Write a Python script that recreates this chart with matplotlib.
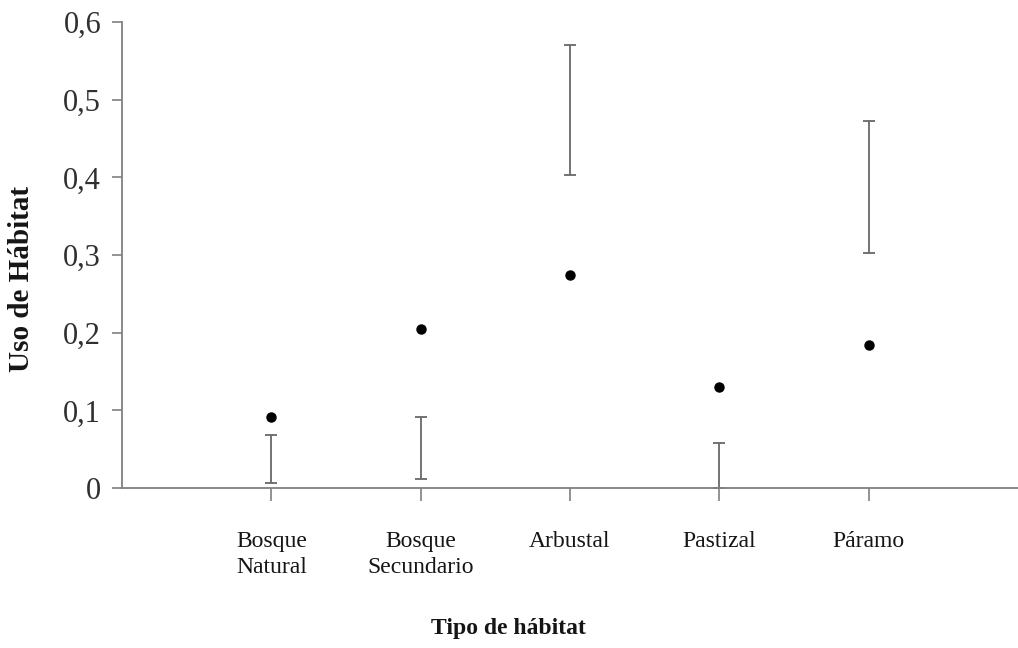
import matplotlib.pyplot as plt

# Datos
habitats = ["Bosque\nNatural", "Bosque\nSecundario", "Arbustal", "Pastizal", "Páramo"]
uso = [0.091, 0.205, 0.274, 0.130, 0.184]
ic_inf = [0.006, 0.012, 0.403, 0.0, 0.302]
ic_sup = [0.068, 0.091, 0.570, 0.058, 0.472]
yticks = [0, 0.1, 0.2, 0.3, 0.4, 0.5, 0.6]
ytick_labels = ["0", "0,1", "0,2", "0,3", "0,4", "0,5", "0,6"]

plt.rcParams['font.family'] = ['Liberation Serif', 'DejaVu Serif']

fig = plt.figure(figsize=(10.18, 6.48), dpi=100)
ax = fig.add_axes([122 / 1018, 160 / 648, 1 - 122 / 1018, (488 - 22) / 648])

x = list(range(1, len(habitats) + 1))
centros = [(a + b) / 2 for a, b in zip(ic_inf, ic_sup)]
err = [[c - a for c, a in zip(centros, ic_inf)], [b - c for b, c in zip(ic_sup, centros)]]

# intervalos (sin marcador)
ax.errorbar(x, centros, yerr=err, fmt='none', ecolor='#686868', elinewidth=1.3,
            capsize=4.6, capthick=1.3, clip_on=False)
# puntos observados
ax.plot(x, uso, 'o', color='black', markersize=6.5, linestyle='none')

ax.set_xlim(0, 6)
ax.set_ylim(0, 0.6)
ax.set_xticks(x)
ax.set_xticklabels(habitats, fontsize=17, color='#151515', linespacing=1.3)
ax.set_yticks(yticks)
ax.set_yticklabels(ytick_labels, fontsize=22, color='#303030')

for s in ['top', 'right']:
    ax.spines[s].set_visible(False)
for s in ['left', 'bottom']:
    ax.spines[s].set_color('#808080')
    ax.spines[s].set_linewidth(1.3)
ax.tick_params(axis='x', direction='out', length=9, width=1.2, color='#808080', pad=22)
ax.tick_params(axis='y', direction='out', length=7, width=1.2, color='#808080', pad=8)

ax.set_xlabel("Tipo de hábitat", fontsize=17, fontweight='bold', color='#151515')
ax.xaxis.set_label_coords(0.431, -0.278)
ax.set_ylabel("Uso de Hábitat", fontsize=21, fontweight='bold', color='#151515')
ax.yaxis.set_label_coords(-0.097, 0.449)

fig.savefig("out.png", dpi=100)
